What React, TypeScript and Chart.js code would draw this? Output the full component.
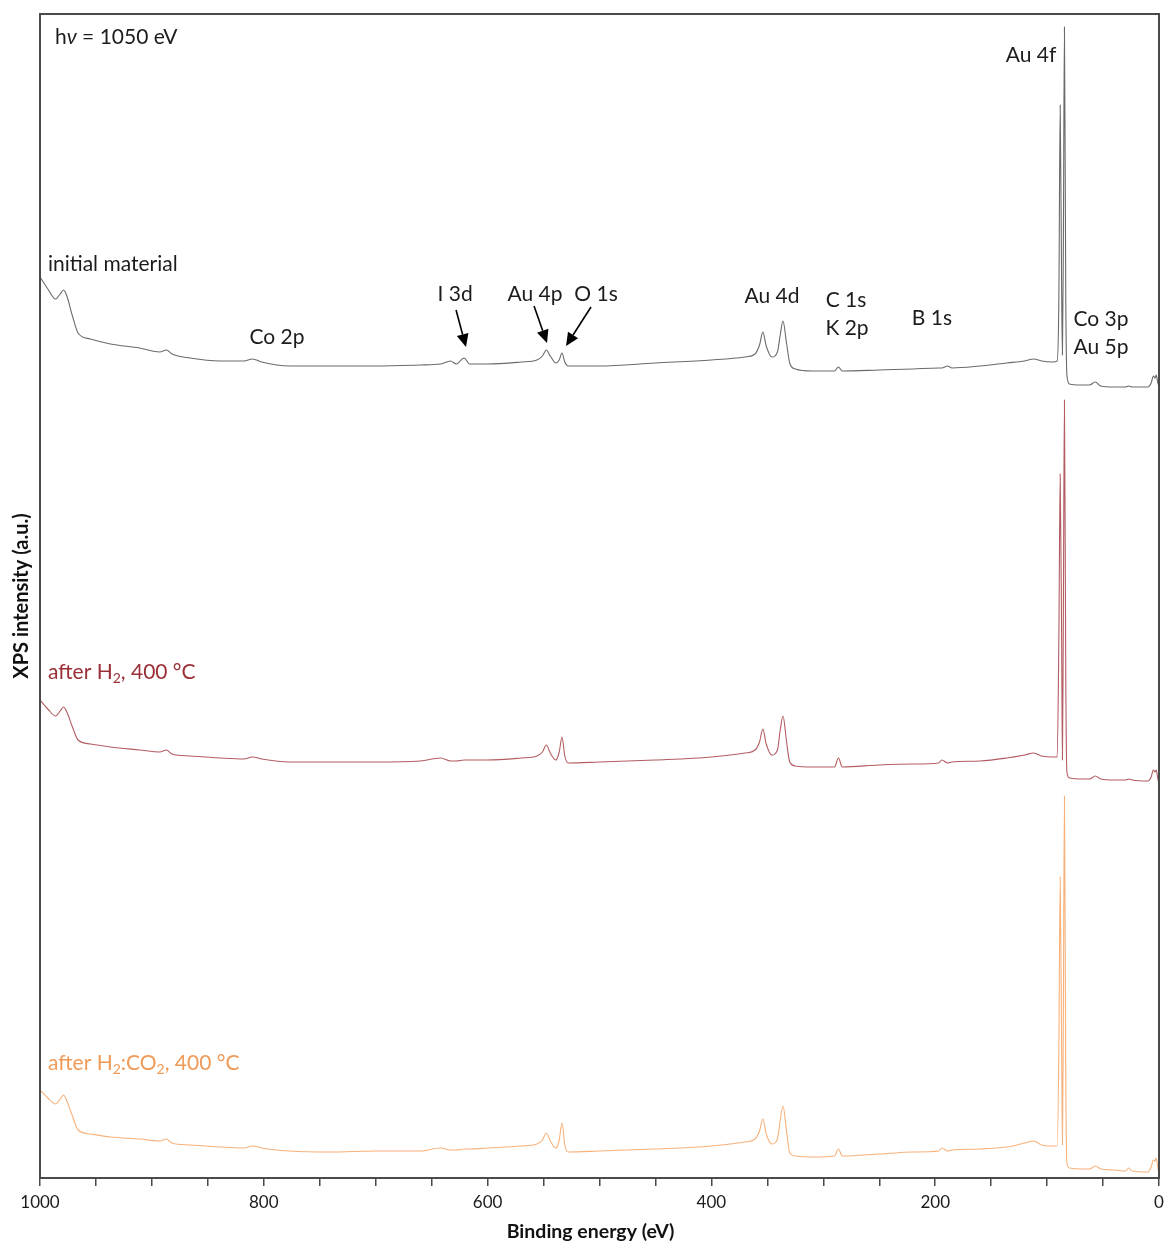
import React, { useEffect, useRef } from 'react';
import { Chart, registerables } from 'chart.js';

Chart.register(...registerables);

const FONT = 'Lato, "Open Sans", "DejaVu Sans", sans-serif';

// Binding energy grid (eV), shared by the three survey spectra
const bindingEnergy = [
  1000, 993, 986, 982, 979, 976, 971, 966, 955, 937, 911, 893, 887, 882, 866, 839, 818, 810, 802, 777,
  741, 700, 660, 642, 633, 628, 621, 616, 600, 570, 556, 551, 547.5, 544, 539, 536, 533.5, 531, 528, 500,
  450, 400, 370, 361, 357, 354, 351, 346, 341, 338.5, 336, 333, 330, 325, 310, 290, 286.5, 283, 250, 220,
  197, 194, 189, 185, 160, 136, 120, 112, 105, 95, 91, 89.5, 88.3, 87, 86.3, 85.5, 84.5, 83.3, 82.3, 80,
  70, 62, 57, 52, 40, 30, 27, 24, 10, 7, 5, 3.5, 2.5, 1, 0,
];

// Stacked intensities (a.u., with vertical offsets)
const initialMaterial = [
  90.1, 88.9, 87.9, 88.4, 88.8, 88.2, 86.2, 84.5, 83.9, 83.4, 83.0, 82.6, 82.8, 82.4, 82.0, 81.7, 81.7, 81.9, 81.6, 81.2,
  81.2, 81.2, 81.3, 81.4, 81.7, 81.4, 82.0, 81.4, 81.4, 81.6, 81.8, 82.2, 82.8, 82.2, 81.5, 81.8, 82.5, 81.6, 81.2, 81.2,
  81.5, 81.8, 82.1, 82.4, 83.3, 84.6, 83.2, 82.1, 82.6, 84.3, 85.7, 83.6, 81.5, 80.9, 80.7, 80.7, 81.1, 80.7, 80.8, 80.9,
  81.0, 81.0, 81.2, 81.0, 81.2, 81.5, 81.7, 81.9, 81.7, 81.6, 81.7, 87.8, 107.3, 88.8, 82.3, 92.8, 115.1, 87.8, 80.3, 79.4,
  79.3, 79.3, 79.6, 79.2, 79.1, 79.1, 79.2, 79.1, 79.1, 79.5, 80.2, 80.0, 80.3, 79.5, 79.2,
];

const afterH2 = [
  47.8, 46.9, 46.2, 46.7, 47.1, 46.6, 45.1, 43.8, 43.4, 43.1, 42.8, 42.6, 42.8, 42.4, 42.2, 42.0, 41.9, 42.1, 41.9, 41.6,
  41.6, 41.6, 41.7, 42.0, 41.7, 41.7, 41.8, 41.8, 41.8, 42.0, 42.2, 42.6, 43.3, 42.5, 41.8, 42.6, 44.1, 42.2, 41.5, 41.6,
  41.8, 42.1, 42.5, 42.8, 43.6, 44.9, 43.4, 42.3, 42.8, 44.8, 46.2, 43.8, 41.6, 41.2, 41.1, 41.1, 42.0, 41.1, 41.3, 41.4,
  41.5, 41.8, 41.5, 41.6, 41.7, 42.0, 42.3, 42.5, 42.2, 42.1, 42.1, 53.8, 70.4, 53.8, 41.8, 55.8, 77.8, 49.8, 40.6, 40.0,
  39.9, 39.9, 40.2, 39.9, 39.8, 39.8, 39.9, 39.8, 39.7, 40.1, 40.8, 40.6, 40.8, 39.9, 39.4,
];

const afterH2CO2 = [
  8.8, 8.0, 7.4, 7.9, 8.3, 7.7, 6.2, 4.8, 4.4, 4.1, 3.9, 3.7, 3.9, 3.5, 3.3, 3.1, 3.0, 3.2, 3.0, 2.7,
  2.6, 2.7, 2.7, 3.0, 2.8, 2.8, 2.9, 2.9, 3.0, 3.2, 3.4, 3.8, 4.5, 3.7, 3.0, 3.8, 5.5, 3.3, 2.6, 2.7,
  2.9, 3.2, 3.6, 3.9, 4.7, 5.9, 4.4, 3.4, 3.9, 5.8, 7.2, 4.8, 2.5, 2.2, 2.1, 2.2, 2.9, 2.2, 2.4, 2.6,
  2.7, 3.0, 2.7, 2.8, 2.9, 3.1, 3.5, 3.7, 3.3, 3.2, 3.2, 12.8, 30.1, 12.8, 3.3, 15.8, 38.2, 9.8, 1.5, 1.0,
  0.9, 0.9, 1.2, 0.9, 0.8, 0.7, 1.0, 0.7, 0.6, 1.1, 1.8, 1.7, 2.0, 1.0, 0.3,
];

const xLabelValues = [1000, 800, 600, 400, 200, 0];

// Energy under the centre of the x-axis title
const xTitleEnergy = 508;

const COLORS = {
  initial: '#6a6a6a',
  h2: '#b35c62',
  h2co2: '#f7b27c',
  h2Text: '#9a2f37',
  h2co2Text: '#f09a58',
  text: '#1c1c1c',
  axis: '#4a4a4a',
};

type Part = { t: string; sub?: boolean; italic?: boolean };
type Label = { parts: Part[]; energy: number; intensity: number; align: 'left' | 'center'; color: string };

const txt = (t: string): Part[] => [{ t }];

// Text labels anchored in data coordinates (binding energy, intensity)
const labels: Label[] = [
  { parts: [{ t: 'h' }, { t: 'ν', italic: true }, { t: ' = 1050 eV' }], energy: 986.6, intensity: 114.1, align: 'left', color: COLORS.text },
  { parts: txt('initial material'), energy: 992.9, intensity: 91.4, align: 'left', color: COLORS.text },
  { parts: txt('Co 2p'), energy: 788.2, intensity: 84.1, align: 'center', color: COLORS.text },
  { parts: txt('I 3d'), energy: 629.1, intensity: 88.4, align: 'center', color: COLORS.text },
  { parts: txt('Au 4p'), energy: 557.6, intensity: 88.4, align: 'center', color: COLORS.text },
  { parts: txt('O 1s'), energy: 503.1, intensity: 88.4, align: 'center', color: COLORS.text },
  { parts: txt('Au 4d'), energy: 345.8, intensity: 88.2, align: 'center', color: COLORS.text },
  { parts: txt('C 1s'), energy: 279.7, intensity: 87.8, align: 'center', color: COLORS.text },
  { parts: txt('K 2p'), energy: 278.8, intensity: 85.0, align: 'center', color: COLORS.text },
  { parts: txt('B 1s'), energy: 202.9, intensity: 86.0, align: 'center', color: COLORS.text },
  { parts: txt('Au 4f'), energy: 114.4, intensity: 112.3, align: 'center', color: COLORS.text },
  { parts: txt('Co 3p'), energy: 51.8, intensity: 85.9, align: 'center', color: COLORS.text },
  { parts: txt('Au 5p'), energy: 51.8, intensity: 83.1, align: 'center', color: COLORS.text },
  {
    parts: [{ t: 'after H' }, { t: '2', sub: true }, { t: ', 400 °C' }],
    energy: 992.9, intensity: 50.6, align: 'left', color: COLORS.h2Text,
  },
  {
    parts: [{ t: 'after H' }, { t: '2', sub: true }, { t: ':CO' }, { t: '2', sub: true }, { t: ', 400 °C' }],
    energy: 992.9, intensity: 11.5, align: 'left', color: COLORS.h2co2Text,
  },
];

// Arrows pointing at the weak peaks: [fromEnergy, fromIntensity, toEnergy, toIntensity]
const arrows: [number, number, number, number][] = [
  [628.2, 86.8, 619.3, 83.1],
  [558.5, 87.2, 546.9, 83.5],
  [507.6, 87.1, 529.9, 83.2],
];

const LABEL_SIZE = 21;

function fontFor(size: number, italic = false, bold = false) {
  return `${italic ? 'italic ' : ''}${bold ? 'bold ' : ''}${size}px ${FONT}`;
}

function drawRich(ctx: CanvasRenderingContext2D, parts: Part[], x: number, y: number, align: 'left' | 'center', size: number, color: string) {
  const subSize = Math.round(size * 0.65);
  const widths = parts.map((p) => {
    ctx.font = fontFor(p.sub ? subSize : size, p.italic);
    return ctx.measureText(p.t).width;
  });
  const total = widths.reduce((a, b) => a + b, 0);
  let cx = align === 'center' ? x - total / 2 : x;
  ctx.fillStyle = color;
  ctx.textAlign = 'left';
  ctx.textBaseline = 'middle';
  parts.forEach((p, i) => {
    ctx.font = fontFor(p.sub ? subSize : size, p.italic);
    ctx.fillText(p.t, cx, p.sub ? y + size * 0.3 : y);
    cx += widths[i];
  });
}

function drawArrow(ctx: CanvasRenderingContext2D, x0: number, y0: number, x1: number, y1: number) {
  const ang = Math.atan2(y1 - y0, x1 - x0);
  const headLen = 13;
  const headHalf = 6;
  const bx = x1 - headLen * Math.cos(ang);
  const by = y1 - headLen * Math.sin(ang);
  ctx.strokeStyle = '#000';
  ctx.fillStyle = '#000';
  ctx.lineWidth = 1.6;
  ctx.beginPath();
  ctx.moveTo(x0, y0);
  ctx.lineTo(bx, by);
  ctx.stroke();
  ctx.beginPath();
  ctx.moveTo(x1, y1);
  ctx.lineTo(bx + headHalf * Math.sin(ang), by - headHalf * Math.cos(ang));
  ctx.lineTo(bx - headHalf * Math.sin(ang), by + headHalf * Math.cos(ang));
  ctx.closePath();
  ctx.fill();
}

const annotationPlugin = {
  id: 'spectrumAnnotations',
  afterDraw(chart: any) {
    const { ctx, chartArea, scales } = chart;
    const xs = scales.x;
    const ys = scales.y;
    ctx.save();
    ctx.strokeStyle = COLORS.axis;
    ctx.lineWidth = 2;
    ctx.strokeRect(chartArea.left, chartArea.top, chartArea.right - chartArea.left, chartArea.bottom - chartArea.top);
    for (const lab of labels) {
      drawRich(ctx, lab.parts, xs.getPixelForValue(lab.energy), ys.getPixelForValue(lab.intensity), lab.align, LABEL_SIZE, lab.color);
    }
    for (const [e0, i0, e1, i1] of arrows) {
      drawArrow(ctx, xs.getPixelForValue(e0), ys.getPixelForValue(i0), xs.getPixelForValue(e1), ys.getPixelForValue(i1));
    }
    // x-axis title
    ctx.font = fontFor(19.5, false, true);
    ctx.fillStyle = '#111';
    ctx.textAlign = 'center';
    ctx.textBaseline = 'middle';
    ctx.fillText('Binding energy (eV)', xs.getPixelForValue(xTitleEnergy), chartArea.bottom + 54);
    ctx.restore();
  },
};

function series(values: number[]) {
  return bindingEnergy.map((e, i) => ({ x: e, y: values[i] }));
}

export default function App() {
  const canvasRef = useRef<HTMLCanvasElement>(null);

  useEffect(() => {
    if (!canvasRef.current) return;
    const lineStyle = { pointRadius: 0, borderWidth: 1.1, cubicInterpolationMode: 'monotone', fill: false };
    const chart = new Chart(canvasRef.current, {
      type: 'line',
      data: {
        datasets: [
          { label: 'initial material', data: series(initialMaterial), borderColor: COLORS.initial, ...lineStyle },
          { label: 'after H2, 400 °C', data: series(afterH2), borderColor: COLORS.h2, ...lineStyle },
          { label: 'after H2:CO2, 400 °C', data: series(afterH2CO2), borderColor: COLORS.h2co2, ...lineStyle },
        ],
      },
      options: {
        animation: false,
        responsive: false,
        devicePixelRatio: 1,
        layout: { padding: { top: 14, right: 6, left: 0, bottom: 0 } },
        plugins: { legend: { display: false }, tooltip: { enabled: false } },
        scales: {
          x: {
            type: 'linear',
            reverse: true,
            min: 0,
            max: 1000,
            ticks: {
              stepSize: 50,
              autoSkip: false,
              maxRotation: 0,
              padding: 6,
              color: '#1c1c1c',
              font: { family: FONT, size: 17 },
              callback: (v: any) => (xLabelValues.includes(Number(v)) ? String(v) : ''),
            },
            grid: { drawOnChartArea: false, drawTicks: true, tickLength: 8, color: COLORS.axis, lineWidth: 1.5 },
            border: { display: true, color: COLORS.axis, width: 2 },
            title: { display: false },
            afterFit: (s: any) => {
              s.height = 66;
              s.paddingLeft = 0;
              s.paddingRight = 0;
            },
          },
          y: {
            type: 'linear',
            min: 0,
            max: 116.4,
            ticks: { display: false },
            grid: { display: false, drawTicks: false },
            border: { display: true, color: COLORS.axis, width: 2 },
            title: {
              display: true,
              text: 'XPS intensity (a.u.)',
              color: '#111',
              font: { family: FONT, size: 20, weight: 'bold' },
              padding: { top: 10, bottom: 0 },
            },
            afterFit: (s: any) => {
              s.width = 40;
            },
          },
        },
      },
      plugins: [annotationPlugin],
    } as any);
    return () => chart.destroy();
  }, []);

  return (
    <div style={{ position: 'absolute', left: 0, top: 0, width: 1165, height: 1244, background: '#fff' }}>
      <canvas ref={canvasRef} width={1165} height={1244} style={{ display: 'block' }} />
    </div>
  );
}
